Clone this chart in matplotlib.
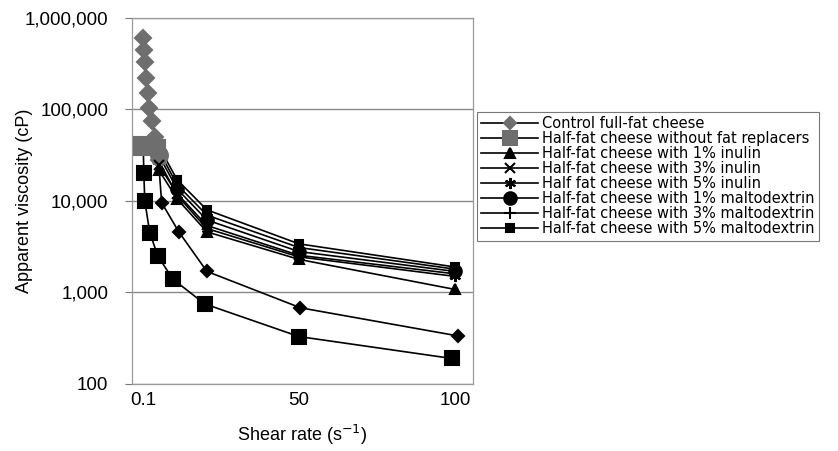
import numpy as np
import matplotlib
matplotlib.use('Agg')
import matplotlib.pyplot as plt
from matplotlib.ticker import FuncFormatter, FixedLocator, NullLocator

plt.rcParams['font.family'] = ['Liberation Sans', 'DejaVu Sans']

# shear rate (1/s) and apparent viscosity (cP)
control_x = [0.1, 0.3, 0.6, 1, 1.5, 2, 3, 4, 5, 6, 11.5, 20.5, 50.5, 101]
control_y = [600000, 450000, 330000, 220000, 150000, 105000, 75000, 50000, 28000, 9600, 4600, 1700, 680, 335]

nofr_x = [0.1, 0.3, 0.6, 2.2, 4.8, 9.6, 19.8, 50, 99]
nofr_y = [40000, 20000, 10000, 4500, 2500, 1400, 750, 330, 190]

rest_x = [5, 11, 20.5, 50, 100]
inulin1_y = [22000, 10500, 4600, 2300, 1080]
inulin3_y = [25000, 12000, 5400, 2550, 1600]
inulin5_y = [28000, 11500, 5000, 2450, 1500]
malto1_y = [32000, 13500, 6200, 2800, 1700]
malto3_y = [36000, 15000, 7000, 3100, 1800]
malto5_y = [40000, 17000, 8000, 3400, 1900]

labels = ['Control full-fat cheese',
          'Half-fat cheese without fat replacers',
          'Half-fat cheese with 1% inulin',
          'Half-fat cheese with 3% inulin',
          'Half fat cheese with 5% inulin',
          'Half-fat cheese with 1% maltodextrin',
          'Half-fat cheese with 3% maltodextrin',
          'Half-fat cheese with 5% maltodextrin']

series = [(control_x, control_y), (nofr_x, nofr_y),
          (rest_x, inulin1_y), (rest_x, inulin3_y), (rest_x, inulin5_y),
          (rest_x, malto1_y), (rest_x, malto3_y), (rest_x, malto5_y)]

markers = ['D', 's', '^', 'x', (6, 2, 0), 'o', '+', 's']
msizes = [6, 10, 7, 7, 8, 9, 9, 6]
legend_mfc = ['#6e6e6e', '#6e6e6e', 'k', 'k', 'k', 'k', 'k', 'k']
GRAY_ABOVE = 25000  # high-viscosity low-shear points print grey in the source

fig = plt.figure(figsize=(8.38, 4.51), dpi=100)
ax = fig.add_axes([0.1575, 0.1486, 0.407, 0.8115])

handles = []
for (x, y), m, ms, lab, lc in zip(series, markers, msizes, labels, legend_mfc):
    x = np.array(x)
    y = np.array(y)
    ax.plot(x, y, color='k', lw=1.2, zorder=3)
    grey = y > GRAY_ABOVE
    if grey.any():
        ax.plot(x[grey], y[grey], ls='none', marker=m, ms=ms * 1.35, color='#6e6e6e',
                mec='#6e6e6e', mew=1.5, zorder=4)
    ax.plot(x[~grey], y[~grey], ls='none', marker=m, ms=ms, color='k',
            mec='k', mew=1.5, zorder=5)
    h, = ax.plot([], [], color='k', lw=1.2, marker=m, ms=ms, mfc=lc, mec=lc, mew=1.5)
    h.set_label(lab)
    handles.append(h)

ax.set_yscale('log')
ax.set_ylim(100, 1000000)
ax.set_xlim(-3.5, 105.8)
ax.yaxis.set_major_locator(FixedLocator([100, 1000, 10000, 100000, 1000000]))
ax.yaxis.set_minor_locator(NullLocator())
ax.yaxis.set_major_formatter(FuncFormatter(lambda v, p: '{:,}'.format(int(round(v)))))
ax.set_xticks([0.1, 50, 100])
ax.set_xticklabels(['0.1', '50', '100'])
ax.tick_params(axis='x', length=0, labelsize=13.5, pad=6)
ax.tick_params(axis='y', length=5, width=0.8, color='#777777', labelsize=13.5, pad=12)
ax.grid(axis='y', color='#8a8a8a', lw=1.0)
for s in ax.spines.values():
    s.set_color('#9a9a9a')
    s.set_linewidth(0.9)

ax.set_ylabel('Apparent viscosity (cP)', fontsize=13, labelpad=-6)
ax.set_xlabel('Shear rate (s$^{-1}$)', fontsize=13, labelpad=10)

leg = fig.legend(handles=handles, loc='upper left', bbox_to_anchor=(0.569, 0.752),
                 prop={'family': 'DejaVu Sans', 'size': 10.5}, frameon=True,
                 fancybox=False, handlelength=3.9, handletextpad=0.25,
                 labelspacing=0.0, borderpad=0.3, borderaxespad=0)
leg.get_frame().set_edgecolor('#555555')
leg.get_frame().set_linewidth(0.8)

fig.savefig('out.png', dpi=100)
